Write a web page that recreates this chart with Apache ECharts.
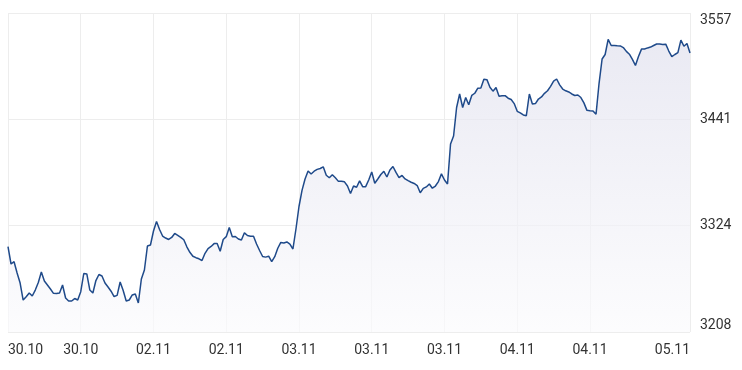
<!DOCTYPE html>
<html>
<head>
<meta charset="utf-8">
<style>
html,body{margin:0;padding:0;background:#fff;}
#chart{width:742px;height:370px;}
</style>
<script src="https://cdn.jsdelivr.net/npm/echarts@6/dist/echarts.min.js"></script>
</head>
<body>
<div id="chart"></div>
<script>
// Index values: evenly spaced intraday samples
const prices = [
3301.3,3282.4,3284.9,3272.5,3261.6,3243.0,3246.6,3250.7,3247.4,3253.9,
3262.2,3273.6,3263.8,3259.4,3255.0,3250.3,3250.1,3250.7,3259.4,3245.2,
3241.9,3241.9,3244.6,3243.0,3252.1,3272.0,3271.5,3253.9,3250.7,3264.3,
3270.9,3269.3,3261.6,3257.2,3252.6,3246.8,3248.1,3262.7,3253.4,3241.9,
3243.0,3248.5,3249.6,3239.7,3266.0,3275.8,3302.1,3303.2,3318.5,3328.9,
3320.1,3313.0,3310.8,3309.2,3311.4,3315.8,3313.8,3311.6,3308.9,3301.2,
3295.2,3290.9,3289.3,3288.1,3286.2,3294.1,3299.3,3301.6,3304.7,3304.8,
3296.3,3309.2,3312.3,3322.3,3312.3,3312.5,3309.7,3308.6,3316.5,3313.5,
3312.7,3312.8,3304.3,3297.2,3290.6,3289.9,3290.9,3284.9,3290.4,3299.6,
3306.0,3305.4,3306.5,3304.1,3298.8,3320.7,3345.3,3362.9,3375.4,3384.1,
3380.9,3383.9,3385.9,3386.9,3388.7,3379.5,3376.7,3380.0,3376.7,3372.8,
3372.8,3372.3,3367.7,3359.5,3367.7,3366.3,3373.4,3367.0,3367.0,3374.3,
3383.0,3370.7,3375.4,3380.3,3383.8,3377.6,3385.2,3389.1,3382.6,3377.0,
3379.3,3375.5,3373.6,3371.8,3370.5,3368.2,3360.3,3365.1,3366.7,3369.9,
3365.3,3367.7,3372.6,3381.0,3374.3,3369.9,3413.7,3422.4,3453.6,3468.4,
3453.6,3464.5,3456.6,3466.8,3469.2,3474.7,3474.9,3484.5,3484.1,3475.8,
3471.5,3475.4,3466.0,3466.4,3466.6,3463.8,3462.4,3457.9,3449.4,3447.8,
3445.5,3444.7,3468.4,3457.4,3457.9,3462.9,3465.2,3469.1,3471.9,3476.8,
3482.5,3484.8,3478.4,3473.8,3471.9,3470.6,3468.4,3466.7,3467.3,3464.5,
3458.7,3450.5,3450.1,3449.9,3446.2,3480.1,3506.7,3511.6,3528.2,3521.4,
3521.5,3521.1,3521.0,3519.2,3515.0,3511.9,3506.2,3499.6,3509.4,3517.5,
3517.6,3518.8,3519.7,3521.4,3523.1,3523.1,3522.6,3522.9,3515.4,3509.3,
3511.6,3513.7,3527.4,3520.6,3523.6,3513.2
];
// x-axis tick positions (sample index) and their date labels
const xTickIndex = [0, 24, 48, 72, 96, 120, 144, 168, 192, 225];
const xTickLabels = ['30.10','30.10','02.11','02.11','03.11','03.11','03.11','04.11','04.11','05.11'];
// y-axis ticks
const yMin = 3208, yMax = 3557;
const yTicks = [3208, 3324.333, 3440.667, 3557];

const seriesData = prices.map((v, i) => [i, v]);

const chart = echarts.init(document.getElementById('chart'), null, {renderer: 'canvas'});
chart.setOption({
  animation: false,
  backgroundColor: '#ffffff',
  grid: {left: 8, right: 52, top: 13, bottom: 38, containLabel: false},
  xAxis: {
    type: 'value',
    min: 0,
    max: prices.length - 1,
    axisLine: {show: false},
    axisTick: {show: false, customValues: xTickIndex},
    splitLine: {show: true, lineStyle: {color: '#ededed', width: 1}},
    axisLabel: {
      customValues: xTickIndex,
      margin: 11,
      color: '#333333',
      fontSize: 14,
      fontFamily: 'Roboto',
      alignMinLabel: 'left',
      alignMaxLabel: 'right',
      formatter: function (v) {
        const k = xTickIndex.indexOf(Math.round(v));
        return k >= 0 ? xTickLabels[k] : '';
      }
    }
  },
  yAxis: {
    type: 'value',
    position: 'right',
    min: yMin,
    max: yMax,
    axisLine: {show: false},
    axisTick: {show: false, customValues: yTicks},
    splitLine: {show: true, lineStyle: {color: '#ededed', width: 1}},
    axisLabel: {
      customValues: yTicks,
      margin: 10,
      color: '#333333',
      fontSize: 14,
      fontFamily: 'Roboto',
      verticalAlignMinLabel: 'bottom',
      verticalAlignMaxLabel: 'top',
      formatter: function (v) { return Math.round(v).toString(); }
    }
  },
  series: [{
    type: 'line',
    data: seriesData,
    showSymbol: false,
    smooth: false,
    lineStyle: {color: '#1f4a8a', width: 1.5},
    areaStyle: {
      color: new echarts.graphic.LinearGradient(0, 0, 0, 1, [
        {offset: 0, color: '#e1e1ee'},
        {offset: 1, color: '#fbfbfd'}
      ])
    }
  }]
});
</script>
</body>
</html>
